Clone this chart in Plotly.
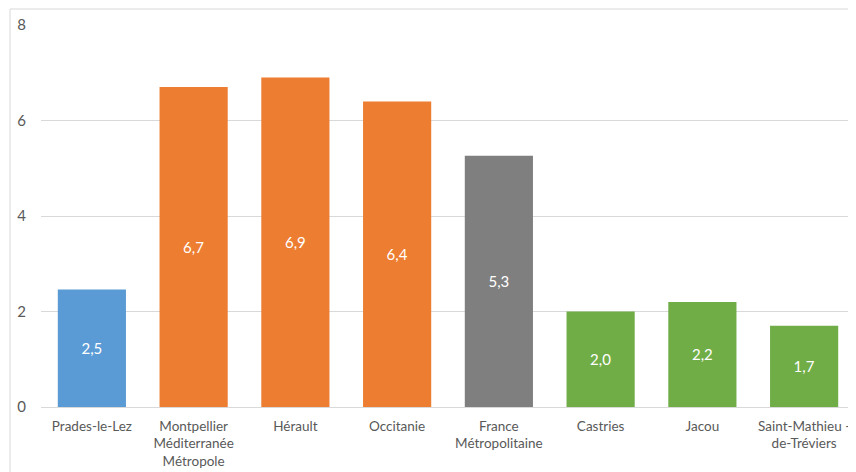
import plotly.graph_objects as go

categories = ["Prades-le-Lez", "Montpellier<br>Méditerranée<br>Métropole", "Hérault", "Occitanie",
              "France<br>Métropolitaine", "Castries", "Jacou", "Saint-Mathieu -<br>de-Tréviers"]
values = [2.46, 6.7, 6.9, 6.4, 5.26, 2.0, 2.2, 1.7]
colors = ["#5B9BD5", "#ED7D31", "#ED7D31", "#ED7D31", "#7F7F7F", "#70AD47", "#70AD47", "#70AD47"]
y_ticks = [0, 2, 4, 6, 8]

# page body has an 8px margin; compensate
OFF = 8
W, H = 856 - OFF, 472 - OFF
ml, mr, mt, mb = 41 - OFF, 1, 25 - OFF, 65
pw, ph = W - ml - mr, H - mt - mb

fig = go.Figure(go.Bar(
    x=categories, y=values, marker=dict(color=colors, line=dict(width=0)),
    texttemplate="%{y:.1f}", textposition="inside", insidetextanchor="middle",
    textfont=dict(color="white", size=15, family="Lato, Open Sans, sans-serif"),
    hoverinfo="skip",
))

fig.update_layout(
    width=W, height=H, margin=dict(l=ml, r=mr, t=mt, b=mb),
    paper_bgcolor="white", plot_bgcolor="white", separators=",.",
    bargap=0.33, showlegend=False,
    font=dict(family="Lato, Open Sans, sans-serif", color="#595959"),
    xaxis=dict(showgrid=False, showline=False, ticks="", tickfont=dict(size=13.5, color="#595959"),
               tickangle=0, automargin=False, ticklabelstandoff=9),
    yaxis=dict(range=[0, 8], tickvals=y_ticks, showgrid=True, gridcolor="#D9D9D9", gridwidth=1,
               zeroline=True, zerolinecolor="#D9D9D9", zerolinewidth=1, showline=False, ticks="",
               tickfont=dict(size=15, color="#595959"), ticklabelstandoff=14, automargin=False),
    shapes=[dict(type="rect", xref="paper", yref="paper",
                 x0=(10 - OFF - ml) / pw, x1=(W + 20 - ml) / pw,
                 y0=-(H + 20 - mt - ph) / ph, y1=1 + (mt - (9 - OFF)) / ph,
                 line=dict(color="#D9D9D9", width=1), layer="below")],
)

fig.write_html("out.html")
